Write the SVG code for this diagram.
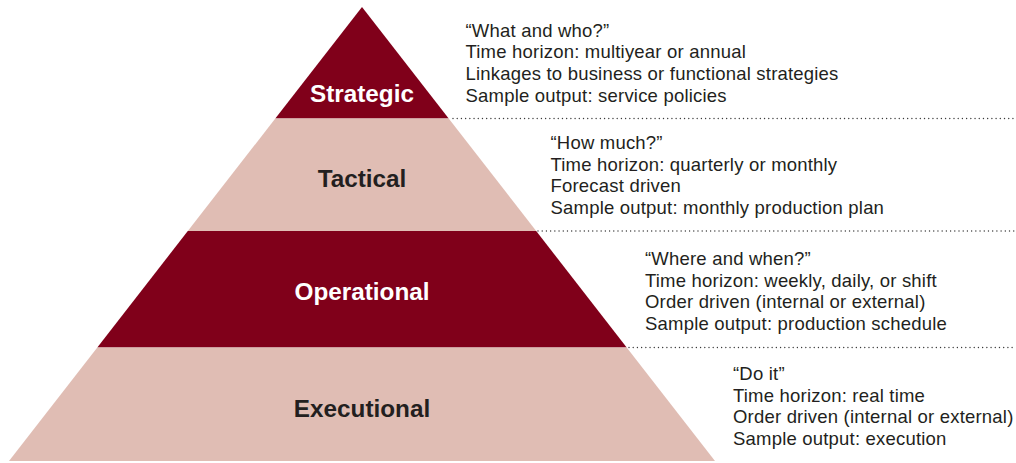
<svg xmlns="http://www.w3.org/2000/svg" width="1016" height="463" viewBox="0 0 1016 463">
  <style>
    .dark { fill: #80001a; }
    .light { fill: #e0bdb4; }
    .label { font-family: "Liberation Sans", Arial, sans-serif; font-weight: bold; font-size: 24.3px; text-anchor: middle; }
    .on-dark { fill: #ffffff; }
    .on-light { fill: #231f20; }
    .desc { font-family: "Liberation Sans", Arial, sans-serif; font-size: 18.5px; letter-spacing: 0.2px; fill: #231f20; }
    .sep { stroke: #3a3a3a; stroke-width: 1.4; stroke-linecap: round; stroke-dasharray: 0.01 4.2; fill: none; }
  </style>

  <!-- Pyramid tiers, top to bottom -->
  <g id="strategic">
    <polygon class="dark" points="362,7 448.7,118.5 275.3,118.5"/>
    <text class="label on-dark" x="362" y="102">Strategic</text>
  </g>
  <g id="tactical">
    <polygon class="light" points="275.3,118.5 448.7,118.5 536.2,231 187.8,231"/>
    <text class="label on-light" x="362" y="187">Tactical</text>
  </g>
  <g id="operational">
    <polygon class="dark" points="187.8,231 536.2,231 626.7,347.5 97.3,347.5"/>
    <text class="label on-dark" x="362" y="300">Operational</text>
  </g>
  <g id="executional">
    <polygon class="light" points="97.3,347.5 626.7,347.5 715,461 9,461"/>
    <text class="label on-light" x="362" y="416.5">Executional</text>
  </g>

  <!-- Dotted separators between tier descriptions -->
  <g id="connectors">
    <line class="sep" x1="453" y1="118.5" x2="1016" y2="118.5"/>
    <line class="sep" x1="538" y1="231" x2="1016" y2="231"/>
    <line class="sep" x1="629" y1="347.5" x2="1016" y2="347.5"/>
  </g>

  <!-- Tier descriptions -->
  <g id="strategic-notes">
    <text class="desc" x="465.5" y="36.5">“What and who?”</text>
    <text class="desc" x="465.5" y="58.2">Time horizon: multiyear or annual</text>
    <text class="desc" x="465.5" y="79.9">Linkages to business or functional strategies</text>
    <text class="desc" x="465.5" y="101.6">Sample output: service policies</text>
  </g>
  <g id="tactical-notes">
    <text class="desc" x="550.5" y="149">“How much?”</text>
    <text class="desc" x="550.5" y="170.5">Time horizon: quarterly or monthly</text>
    <text class="desc" x="550.5" y="192">Forecast driven</text>
    <text class="desc" x="550.5" y="213.5">Sample output: monthly production plan</text>
  </g>
  <g id="operational-notes">
    <text class="desc" x="645" y="265">“Where and when?”</text>
    <text class="desc" x="645" y="286.5">Time horizon: weekly, daily, or shift</text>
    <text class="desc" x="645" y="308">Order driven (internal or external)</text>
    <text class="desc" x="645" y="329.5">Sample output: production schedule</text>
  </g>
  <g id="executional-notes">
    <text class="desc" x="733" y="380">“Do it”</text>
    <text class="desc" x="733" y="401.5">Time horizon: real time</text>
    <text class="desc" x="733" y="423">Order driven (internal or external)</text>
    <text class="desc" x="733" y="444.5">Sample output: execution</text>
  </g>
</svg>
